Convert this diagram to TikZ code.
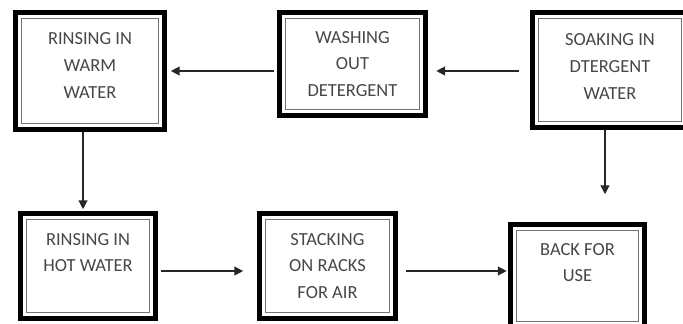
\documentclass[tikz,border=0pt]{standalone}
\usepackage{fontspec}
\setmainfont{Carlito}
\usepackage{tikz}
\usetikzlibrary{arrows.meta, positioning, calc}
\tikzset{
  stepbox/.style={rectangle, draw=black, line width=3.2pt, fill=white,
                  align=center, text=black!72, inner sep=2pt,
                  font=\fontsize{10.5}{15.3}\selectfont,
                  path picture={\draw[black!55, line width=0.6pt]
                    ([shift={(3.3pt,3.3pt)}]path picture bounding box.south west)
                    rectangle
                    ([shift={(-3.3pt,-3.3pt)}]path picture bounding box.north east);}},
  arc/.style={-{Triangle[length=5pt, width=5pt]}, line width=0.8pt, black!85}
}
\begin{document}
\begin{tikzpicture}
  \clip (0,0) rectangle (13.66,6.46);
  \fill[white] (0,0) rectangle (13.66,6.46);
  % top row
  \node[stepbox, minimum width=2.98cm, minimum height=2.34cm] (warm) at (1.80,5.04)
    {RINSING IN\\WARM\\WATER\\[-9pt]};
  \node[stepbox, minimum width=2.92cm, minimum height=2.06cm] (wash) at (7.05,5.18)
    {WASHING\\OUT\\DETERGENT};
  \node[stepbox, minimum width=3.10cm, minimum height=2.30cm] (soak) at (12.20,5.06)
    {SOAKING IN\\DTERGENT\\WATER\\[-11pt]};
  % bottom row
  \node[stepbox, minimum width=2.70cm, minimum height=2.10cm] (hot) at (1.76,1.14)
    {RINSING IN\\HOT WATER\\~};
  \node[stepbox, minimum width=2.72cm, minimum height=2.10cm] (stack) at (6.55,1.14)
    {STACKING\\ON RACKS\\FOR AIR};
  \node[stepbox, minimum width=2.68cm, minimum height=2.06cm] (back) at (11.55,0.94)
    {BACK FOR\\USE\\~};
  % connectors
  \draw[arc, shorten <=0.05cm, shorten >=0.07cm] (wash.west |- warm.east) -- (warm.east);
  \draw[arc, shorten <=0.21cm, shorten >=0.16cm] ([yshift=-0.02cm]soak.west) -- ([yshift=-0.02cm]soak.west -| wash.east);
  \draw[arc, shorten >=0.03cm] ([xshift=-0.14cm]warm.south) -- ([xshift=-0.14cm]warm.south |- hot.north);
  \draw[arc, shorten >=0.55cm] ([xshift=-0.10cm]soak.south) -- ([xshift=-0.10cm]soak.south |- back.north);
  \draw[arc, shorten <=0.05cm, shorten >=0.27cm] ([yshift=-0.10cm]hot.east) -- ([yshift=-0.10cm]hot.east -| stack.west);
  \draw[arc, shorten <=0.15cm, shorten >=0.02cm] ([yshift=-0.10cm]stack.east) -- ([yshift=-0.10cm]stack.east -| back.west);
\end{tikzpicture}
\end{document}
